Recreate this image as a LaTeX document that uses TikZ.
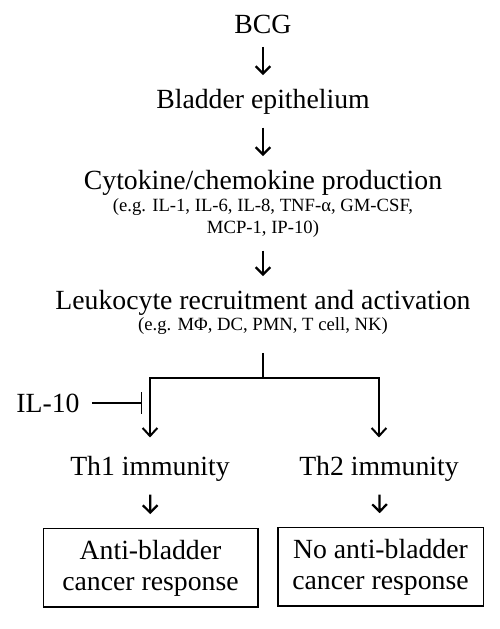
\documentclass[tikz,border=0pt]{standalone}
\usepackage{fontspec}
\setmainfont{Liberation Serif}
\usetikzlibrary{arrows.meta}

\tikzset{
  txt/.style={anchor=base, inner sep=0pt, font=\fontsize{20.8}{24}\selectfont},
  smalltxt/.style={anchor=base, inner sep=0pt, align=center, font=\fontsize{14}{16.5}\selectfont},
  outcome/.style={draw, line width=1pt, inner sep=0pt, align=center,
    font=\fontsize{20.8}{23.25}\selectfont},
  flow/.style={line width=1.7pt, -{Straight Barb[length=5.5pt, width=11pt]},
    shorten <=10pt, shorten >=10pt},
  branch/.style={line width=1pt, -{Straight Barb[length=6pt, width=11pt, line width=1.5pt]}},
  inhib/.style={line width=1pt, -{Bar[width=16pt, line width=1pt]}}
}

\begin{document}
\begin{tikzpicture}[x=0.75pt, y=-0.75pt]
\newcommand{\midx}{263} % centre line of the cascade
\newcommand{\thl}{150} % Th1 column
\newcommand{\thr}{379} % Th2 column

\useasboundingbox (0,0) rectangle (500,629);

% cascade
\node[txt] (bcg)   at (\midx, 33)  {BCG};
\node[txt] (epith) at (\midx, 108) {Bladder epithelium};
\node[txt] (cyto)  at (\midx, 189) {Cytokine/chemokine production};
\node[smalltxt] (cytoex) at (\midx, 233) {(e.g. IL-1, IL-6, IL-8, TNF-α, GM-CSF,\\ MCP-1, IP-10)};
\node[txt] (leuko) at (\midx, 309) {Leukocyte recruitment and activation};
\node[smalltxt] (leukoex) at (\midx, 330) {(e.g. MΦ, DC, PMN, T cell, NK)};

\draw[flow] (bcg) -- (epith);
\draw[flow] (epith) -- (cyto);
\draw[flow] (cytoex) -- (leuko);
%

% split into Th1 / Th2
\coordinate (split) at (\midx, 378);
\node[txt] (th1) at (\thl, 475) {Th1 immunity};
\node[txt] (th2) at (\thr, 475) {Th2 immunity};

\draw[line width=1pt, shorten <=14pt] (leukoex) -- (split);
\draw[branch, shorten >=13.5pt] (split) -| (th1);
\draw[branch, shorten >=13.5pt] (split) -| (th2);

% IL-10 block
\node[txt] (il10) at (48, 412) {IL-10};
\coordinate (blk) at (142, 402);
\draw[inhib, shorten <=9pt] (il10) -- (il10 -| blk);

% outcomes
\node[outcome, minimum width=161pt, minimum height=59pt, text depth=3pt] (anti) at (150.5, 567.5) {Anti-bladder\\ cancer response};
\node[outcome, minimum width=154pt, minimum height=59pt, text depth=3pt] (noanti) at (380.5, 566.5) {No anti-bladder\\ cancer response};

\draw[flow] (th1) -- (anti);
\draw[flow] (th2) -- (noanti);
\end{tikzpicture}
\end{document}
